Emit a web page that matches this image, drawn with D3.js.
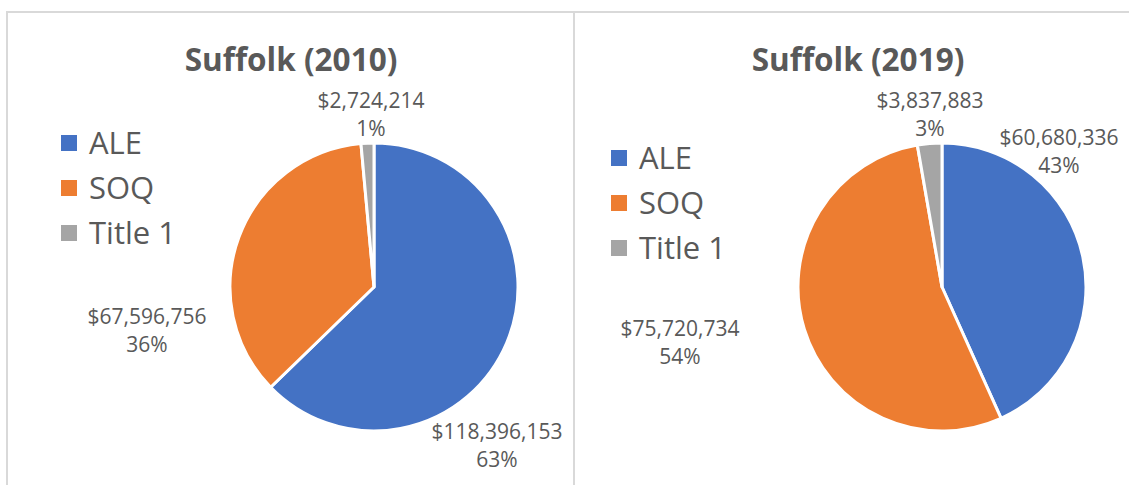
<!DOCTYPE html>
<html>
<head>
<meta charset="utf-8">
<script src="https://cdn.jsdelivr.net/npm/d3@7"></script>
<style>
  html, body { margin: 0; padding: 0; background: #ffffff; }
  svg { display: block; }
  text { font-family: "Open Sans", "Noto Sans", sans-serif; fill: #595959; }
</style>
</head>
<body>
<svg id="chart" width="1129" height="485"></svg>
<script>
// Funding sources, one pie per year
const categories = ["ALE", "SOQ", "Title 1"];
const values2010 = [118396153, 67596756, 2724214];
const values2019 = [60680336, 75720734, 3837883];
const chartTitles = ["Suffolk (2010)", "Suffolk (2019)"];
const sliceColors = ["#4472C4", "#ED7D31", "#A5A5A5"];

// Panel geometry (frame, pie centre, title, legend)
const panels = [
  { x0: 7,   x1: 574,  cx: 374, cy: 287, titleX: 291, legendX: 61,  legendY: 143 },
  { x0: 574, x1: 1140, cx: 942, cy: 287, titleX: 858, legendX: 611, legendY: 158 }
];
// Centre of each two-line data label, relative to the pie centre
const labelOffsets = [
  [[123, 158], [-227, 43], [-3, -173]],
  [[117, -136], [-262, 55], [-12, -173]]
];
const radius = 144;

const svg = d3.select("#chart");
const pie = d3.pie().sort(null).value(d => d.value);
const arc = d3.arc().innerRadius(0).outerRadius(radius);
const money = d3.format("$,");
const pct = d3.format(".0%");
const color = d3.scaleOrdinal().domain(categories).range(sliceColors);

[values2010, values2019].forEach((vals, i) => {
  const p = panels[i];
  const data = categories.map((c, k) => ({ name: c, value: vals[k] }));
  const total = d3.sum(vals);
  const g = svg.append("g");

  // frame
  g.append("path")
    .attr("d", `M${p.x0},490 V12 H${p.x1} V490`)
    .attr("fill", "none")
    .attr("stroke", "#d9d9d9")
    .attr("stroke-width", 2);

  // title
  g.append("text")
    .attr("x", p.titleX)
    .attr("y", 71)
    .attr("text-anchor", "middle")
    .style("font-size", "31.5px")
    .style("font-weight", "bold")
    .text(chartTitles[i]);

  // slices
  const pg = g.append("g").attr("transform", `translate(${p.cx},${p.cy})`);
  const arcs = pie(data);
  pg.selectAll("path")
    .data(arcs)
    .join("path")
    .attr("d", arc)
    .attr("fill", d => color(d.data.name))
    .attr("stroke", "#ffffff")
    .attr("stroke-width", 3)
    .attr("stroke-linejoin", "round");

  // data labels: value and share
  arcs.forEach((d, k) => {
    const [dx, dy] = labelOffsets[i][k];
    const t = pg.append("text")
      .attr("text-anchor", "middle")
      .style("font-size", "21px");
    t.append("tspan").attr("x", dx).attr("y", dy - 6).text(money(d.data.value));
    t.append("tspan").attr("x", dx).attr("y", dy + 22).text(pct(d.data.value / total));
  });

  // legend
  const lg = g.append("g").attr("transform", `translate(${p.legendX},${p.legendY})`);
  const rows = lg.selectAll("g")
    .data(categories)
    .join("g")
    .attr("transform", (d, k) => `translate(0,${k * 45})`);
  rows.append("rect")
    .attr("x", 0).attr("y", -8)
    .attr("width", 16).attr("height", 16)
    .attr("fill", d => color(d));
  rows.append("text")
    .attr("x", 28).attr("y", 11)
    .style("font-size", "31px")
    .text(d => d);
});
</script>
</body>
</html>
